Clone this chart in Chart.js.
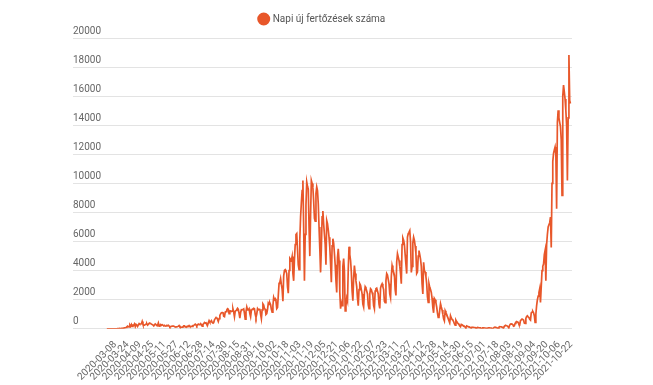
<!DOCTYPE html>
<html>
<head>
<meta charset="utf-8">
<script src="https://cdn.jsdelivr.net/npm/chart.js@4.4.1/dist/chart.umd.min.js"></script>
<style>
  html, body { margin: 0; padding: 0; background: #fff; }
  #wrap { width: 653px; height: 385px; }
</style>
</head>
<body>
<div id="wrap"><canvas id="chart"></canvas></div>
<script>
// Napi új fertőzések – daily values from 2020-02-26, one row per week (Wed..Tue)
const startDate = '2020-02-26';
const seriesLabel = 'Napi új fertőzések száma';
const dailyCases = [
  1, 0, 0, 1, 0, 0, 1,
  2, 0, 1, 0, 4, 5, 2,
  9, 12, 14, 20, 16, 25, 30,
  40, 50, 60, 70, 90, 140, 190,
  150, 130, 260, 170, 300, 170, 250,
  250, 340, 150, 300, 260, 160, 270,
  360, 320, 330, 340, 500, 310, 250,
  250, 290, 330, 360, 260, 310, 370,
  380, 360, 320, 290, 260, 200, 270,
  330, 290, 240, 250, 400, 190, 230,
  290, 240, 280, 270, 200, 240, 190,
  200, 230, 220, 240, 190, 120, 160,
  170, 180, 190, 190, 150, 120, 140,
  150, 160, 180, 220, 130, 120, 110,
  120, 140, 200, 200, 130, 150, 140,
  180, 160, 220, 160, 150, 170, 170,
  220, 240, 270, 320, 270, 200, 280,
  330, 290, 300, 360, 290, 180, 310,
  350, 430, 390, 410, 300, 250, 410,
  560, 460, 490, 560, 440, 410, 430,
  620, 700, 780, 770, 650, 510, 700,
  920, 1030, 1110, 1120, 1150, 870, 840,
  1150, 1180, 1300, 1380, 1350, 1050, 1220,
  1230, 1190, 1220, 1380, 1150, 830, 1210,
  1260, 1330, 1410, 1340, 1060, 730, 1120,
  1310, 1300, 1300, 1370, 1060, 660, 1190,
  1500, 1310, 1300, 1380, 1050, 830, 1250,
  1340, 1370, 1410, 1380, 1000, 790, 1020,
  1390, 1310, 1340, 1380, 1000, 700, 1300,
  1710, 1630, 1380, 1350, 990, 1040, 1330,
  1770, 1680, 1790, 1660, 1340, 1150, 1590,
  2160, 2000, 2070, 1900, 1390, 1470, 2280,
  3130, 3190, 3450, 3050, 2710, 1900, 3620,
  4020, 4070, 3950, 3800, 2880, 2450, 4010,
  4850, 4770, 4700, 4970, 3800, 3300, 4750,
  5800, 6480, 6550, 5450, 4400, 4070, 6150,
  7700, 8650, 9500, 10200, 7000, 3300, 6500,
  8500, 10100, 9800, 9600, 7000, 5000, 7800,
  10200, 10000, 9700, 8800, 7600, 7400, 9300,
  9750, 9500, 8600, 7000, 5500, 3880, 5500,
  7700, 8100, 7200, 6500, 5800, 4400, 7450,
  7240, 6800, 6300, 5600, 4500, 3200, 5700,
  6200, 5900, 5200, 4400, 3300, 2500, 4900,
  5500, 4700, 2500, 1380, 1800, 1600, 4300,
  4830, 4000, 1240, 1600, 2100, 1900, 4100,
  5650, 5100, 4700, 3900, 2600, 1930, 3500,
  4350, 3800, 3300, 2900, 2100, 1590, 2700,
  3100, 3000, 2700, 2400, 1700, 1500, 2500,
  2900, 2800, 2600, 2400, 1650, 1380, 2400,
  2760, 2700, 2500, 2300, 1600, 1380, 2600,
  2760, 2800, 2600, 2400, 1700, 1400, 2800,
  3000, 3100, 2900, 2700, 1900, 1800, 3300,
  3800, 3700, 3400, 3100, 2400, 2140, 3600,
  4350, 4100, 3900, 3700, 2700, 2300, 4600,
  5170, 4950, 4700, 4300, 3800, 3100, 5800,
  6250, 6100, 5800, 5100, 4450, 3800, 6300,
  6550, 6650, 6760, 6000, 3880, 4300, 5900,
  6300, 6100, 5700, 5200, 3800, 3900, 5000,
  5380, 5100, 4800, 4300, 3100, 2400, 4570,
  4000, 3900, 3600, 3100, 2200, 1820, 3100,
  2850, 2700, 2500, 2100, 1470, 1100, 2090,
  2000, 1800, 1500, 1100, 780, 800, 1300,
  1720, 1500, 1300, 1000, 690, 550, 1240,
  1100, 1000, 850, 700, 550, 430, 900,
  750, 650, 600, 500, 350, 250, 600,
  500, 420, 360, 300, 200, 150, 300,
  280, 230, 200, 180, 110, 80, 200,
  170, 150, 130, 120, 70, 50, 120,
  110, 95, 90, 80, 45, 30, 90,
  80, 70, 60, 60, 30, 25, 70,
  70, 60, 55, 50, 25, 20, 60,
  65, 60, 55, 50, 30, 20, 65,
  100, 110, 90, 85, 50, 40, 110,
  150, 140, 130, 120, 80, 60, 170,
  220, 230, 210, 200, 130, 110, 260,
  330, 340, 320, 300, 180, 200, 380,
  460, 500, 470, 440, 300, 280, 560,
  620, 670, 640, 600, 400, 380, 720,
  850, 900, 820, 780, 650, 600, 1100,
  1150, 1200, 1100, 900, 440, 1000, 1600,
  2000, 2250, 2500, 2760, 1820, 2900, 4000,
  4300, 4460, 5100, 5380, 3300, 5800, 6500,
  7000, 7000, 7300, 7680, 5600, 10000, 11500,
  12070, 12300, 12500, 12000, 8260, 14200, 15030,
  14500, 14200, 13900, 13000, 9170, 16000, 16760,
  16300, 15800, 15000, 14000, 10200, 14500, 18830,
  15700, 15500
];

// dates shown under the x axis
const tickLabels = [
  '2020-03-08','2020-03-24','2020-04-09','2020-04-25','2020-05-11','2020-05-27',
  '2020-06-12','2020-06-28','2020-07-14','2020-07-30','2020-08-15','2020-08-31',
  '2020-09-16','2020-10-02','2020-10-18','2020-11-03','2020-11-19','2020-12-05',
  '2020-12-21','2021-01-06','2021-01-22','2021-02-07','2021-02-23','2021-03-11',
  '2021-03-27','2021-04-12','2021-04-28','2021-05-14','2021-05-30','2021-06-15',
  '2021-07-01','2021-07-18','2021-08-03','2021-08-19','2021-09-04','2021-09-20',
  '2021-10-06','2021-10-22'
];
const yTicks = [0, 2000, 4000, 6000, 8000, 10000, 12000, 14000, 16000, 18000, 20000];

const LINE = '#e8572a';
const TEXT = '#666';

function dayIndex(s){
  const [y, m, d] = s.split('-').map(Number);
  const [y0, m0, d0] = startDate.split('-').map(Number);
  return Math.round((Date.UTC(y, m - 1, d) - Date.UTC(y0, m0 - 1, d0)) / 86400000);
}

const tickMap = new Map(tickLabels.map(l => [dayIndex(l), l]));
const points = dailyCases.map((v, i) => ({ x: i, y: v }));

// a little extra room under the legend
const legendGap = {
  id: 'legendGap',
  beforeInit(chart){
    const fit = chart.legend.fit;
    chart.legend.fit = function(){
      fit.call(this);
      this.height += 4;
    };
  },
};

new Chart(document.getElementById('chart').getContext('2d'), {
  type: 'line',
  data: {
    datasets: [{
      label: seriesLabel,
      data: points,
      borderColor: LINE,
      backgroundColor: LINE,
      borderWidth: 1.7,
      pointRadius: 0,
      tension: 0,
    }],
  },
  options: {
    responsive: true,
    maintainAspectRatio: false,
    animation: false,
    layout: { padding: { left: 73, right: 81, top: 4, bottom: 0 } },
    plugins: {
      legend: {
        position: 'top',
        labels: {
          usePointStyle: true,
          pointStyle: 'circle',
          boxWidth: 8,
          boxHeight: 8,
          color: '#555',
          font: { family: 'Roboto', size: 10 },
        },
      },
      tooltip: { enabled: false },
    },
    scales: {
      x: {
        type: 'linear',
        min: -44,
        max: 605,
        grid: { display: false },
        border: { display: false },
        afterBuildTicks: (axis) => {
          axis.ticks = [...tickMap.keys()].map(v => ({ value: v }));
        },
        ticks: {
          autoSkip: false,
          maxRotation: 45,
          minRotation: 45,
          padding: 2,
          color: TEXT,
          font: { family: 'Roboto', size: 10 },
          callback: (v) => tickMap.get(v) || '',
        },
      },
      y: {
        min: 0,
        max: 20000,
        afterBuildTicks: (axis) => {
          axis.ticks = yTicks.map(v => ({ value: v }));
        },
        grid: { color: '#e3e3e3', drawTicks: false },
        border: { display: false },
        ticks: {
          mirror: true,
          padding: 0,
          labelOffset: -7,
          color: TEXT,
          font: { family: 'Roboto', size: 10 },
          callback: (v) => String(v),
        },
      },
    },
  },
  plugins: [legendGap],
});
</script>
</body>
</html>
